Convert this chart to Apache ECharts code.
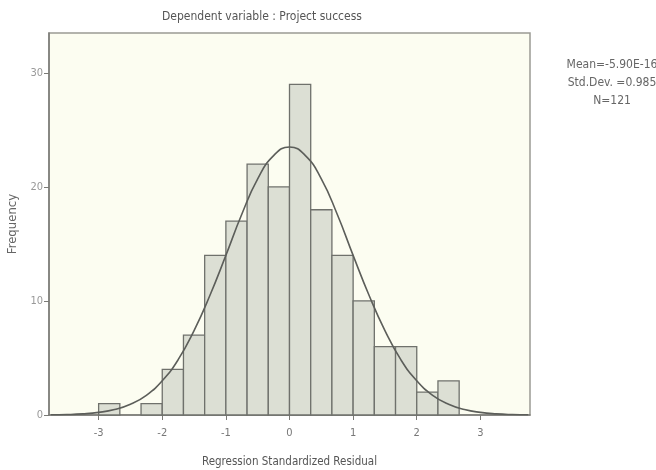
<!DOCTYPE html>
<html>
<head>
<meta charset="utf-8">
<script src="https://cdn.jsdelivr.net/npm/echarts@6/dist/echarts.min.js"></script>
<style>html,body{margin:0;padding:0;background:#fff}#c{width:656px;height:470px}</style>
</head>
<body>
<div id="c"></div>
<script>
// Histogram bins (left edge of each bin, width 1/3)
const binStarts = [-3, -2.6667, -2.3333, -2, -1.6667, -1.3333, -1, -0.6667, -0.3333, 0, 0.3333, 0.6667, 1, 1.3333, 1.6667, 2, 2.3333];
const binWidth = 1 / 3;
const counts = [1, 0, 1, 4, 7, 14, 17, 22, 20, 29, 18, 14, 10, 6, 6, 2, 3];

// Normal curve
const curveX = [-3.75, -3.5, -3.25, -3, -2.75, -2.5, -2.25, -2, -1.75, -1.5, -1.25, -1, -0.75, -0.5, -0.25, 0, 0.25, 0.5, 0.75, 1, 1.25, 1.5, 1.75, 2, 2.25, 2.5, 2.75, 3, 3.25, 3.5, 3.75];
const curveY = [0.02, 0.04, 0.1, 0.23, 0.48, 0.94, 1.73, 3.0, 4.85, 7.4, 10.5, 14.0, 17.6, 20.7, 22.75, 23.5, 22.75, 20.7, 17.6, 14.0, 10.5, 7.4, 4.85, 3.0, 1.73, 0.94, 0.48, 0.23, 0.1, 0.04, 0.02];

const xTicks = [-3, -2, -1, 0, 1, 2, 3];
const yTicks = [0, 10, 20, 30];

const titleText = 'Dependent variable : Project success';
const statsLines = ['Mean=-5.90E-16', 'Std.Dev. =0.985', 'N=121'];
const xName = 'Regression Standardized Residual';
const yName = 'Frequency';

const FONT = '"DejaVu Sans Condensed", "Liberation Sans", sans-serif';

const barData = binStarts.map((s, i) => [s, s + binWidth, counts[i]]);
const curveData = curveX.map((x, i) => [x, curveY[i]]);

const chart = echarts.init(document.getElementById('c'), null, {renderer: 'canvas'});
chart.setOption({
  backgroundColor: '#ffffff',
  animation: false,
  graphic: [
    {type: 'text', left: 162, top: 11,
     style: {text: titleText, font: '12px ' + FONT, fill: '#555'}},
    {type: 'text', x: 612, y: 56,
     style: {text: statsLines.join('\n'), font: '12px ' + FONT, fill: '#666',
             align: 'center', verticalAlign: 'top', lineHeight: 18}}
  ],
  grid: {left: 49, top: 33, right: 126, bottom: 55, show: true,
         outerBoundsMode: 'none', containLabel: false,
         backgroundColor: '#fcfdf1', borderColor: '#9a9a94', borderWidth: 1.5},
  xAxis: {
    type: 'value', min: -3.78, max: 3.78,
    name: xName, nameLocation: 'middle', nameGap: 41,
    nameTextStyle: {fontFamily: FONT, fontSize: 11.5, color: '#555'},
    axisLine: {show: true, onZero: false, lineStyle: {color: '#7a7a76', width: 1.5}},
    axisTick: {show: true, length: 5, customValues: xTicks, lineStyle: {color: '#7a7a76'}},
    axisLabel: {customValues: xTicks, fontFamily: FONT, fontSize: 11, color: '#777', margin: 13},
    splitLine: {show: false}
  },
  yAxis: {
    type: 'value', min: 0, max: 33.5,
    name: yName, nameLocation: 'middle', nameGap: 26,
    nameTextStyle: {fontFamily: FONT, fontSize: 13, color: '#666'},
    axisLine: {show: true, onZero: false, lineStyle: {color: '#7a7a76', width: 1.5}},
    axisTick: {show: true, length: 5, customValues: yTicks, lineStyle: {color: '#7a7a76'}},
    axisLabel: {customValues: yTicks, fontFamily: FONT, fontSize: 11, color: '#999', margin: 6},
    splitLine: {show: false}
  },
  series: [
    {
      type: 'custom',
      data: barData,
      encode: {x: [0, 1], y: 2},
      renderItem: function (params, api) {
        const h = api.value(2);
        if (!h) return null;
        const p0 = api.coord([api.value(0), 0]);
        const p1 = api.coord([api.value(1), h]);
        return {
          type: 'rect',
          shape: {x: p0[0], y: p1[1], width: p1[0] - p0[0], height: p0[1] - p1[1]},
          style: {fill: '#dcdfd4', stroke: '#6f716c', lineWidth: 1.3}
        };
      },
      z: 2
    },
    {
      type: 'line',
      data: curveData,
      smooth: true,
      symbol: 'none',
      lineStyle: {color: '#5c5e5a', width: 1.6},
      z: 3
    }
  ]
});
</script>
</body>
</html>
